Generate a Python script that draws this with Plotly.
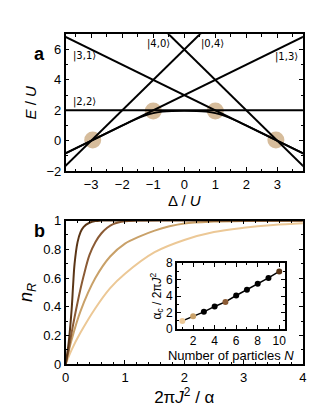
import plotly.graph_objects as go

# ---- panel a: energy levels vs detuning ----
delta_ends = [-4, 4]
e_31 = [7, -1]
e_13 = [-1, 7]
e_40 = [14, -2]
e_04 = [-2, 14]
e_22 = [2, 2]

# lower (avoided crossing) branch
delta_low = [-4.0, -3.0, -2.0, -1.6, -1.3, -1.0, -0.7, -0.4, 0.0, 0.4, 0.7, 1.0, 1.3, 1.6, 2.0, 3.0, 4.0]
e_low = [-1.0, 0.0, 1.0, 1.38, 1.63, 1.82, 1.91, 1.95, 1.96, 1.95, 1.91, 1.82, 1.63, 1.38, 1.0, 0.0, -1.0]

res_delta = [-2.95, -1, 1, 2.95]
res_e = [0.05, 1.95, 1.95, 0.05]

ket_labels = ["|3,1⟩", "|4,0⟩", "|0,4⟩", "|1,3⟩", "|2,2⟩"]
ket_delta = [-3.2, -0.84, 0.9, 3.3, -3.2]
ket_e = [5.57, 6.39, 6.39, 5.5, 2.54]

# ---- panel b: n_R vs 2piJ^2/alpha for N = 1, 2, 5, 10 ----
x_n1 = [0, 0.1, 0.25, 0.5, 0.75, 1.0, 1.5, 2.0, 2.5, 3.0, 3.5, 4.0]
n_n1 = [0, 0.10, 0.22, 0.39, 0.53, 0.63, 0.78, 0.865, 0.92, 0.95, 0.97, 0.982]
x_n2 = [0, 0.1, 0.25, 0.5, 0.75, 1.0, 1.25, 1.5, 1.75, 2.0, 2.5, 3.0, 4.0]
n_n2 = [0, 0.17, 0.37, 0.60, 0.75, 0.84, 0.89, 0.93, 0.96, 0.98, 0.993, 0.998, 1.0]
x_n5 = [0, 0.05, 0.1, 0.2, 0.3, 0.4, 0.5, 0.6, 0.7, 0.8, 1.0, 1.2, 4.0]
n_n5 = [0, 0.10, 0.22, 0.43, 0.61, 0.76, 0.85, 0.91, 0.95, 0.975, 0.995, 1.0, 1.0]
x_n10 = [0, 0.05, 0.1, 0.125, 0.15, 0.2, 0.25, 0.3, 0.4, 0.5, 0.6, 4.0]
n_n10 = [0, 0.15, 0.38, 0.55, 0.70, 0.85, 0.92, 0.955, 0.985, 0.997, 1.0, 1.0]
curve_colors = ["#ecc896", "#c9a169", "#8b5b35", "#5a3516"]

# inset: critical alpha vs particle number
n_particles = [1, 2, 3, 4, 5, 6, 7, 8, 9, 10]
alpha_c = [1.0, 1.55, 2.1, 2.75, 3.3, 4.07, 4.77, 5.5, 6.2, 6.98]
point_colors = ["#ecc896", "#c9a169", "black", "black", "#8b5b35",
                "black", "black", "black", "black", "#5a3516"]

FONT = "Liberation Sans, Arial, DejaVu Sans"

fig = go.Figure()

# resonance circles sit behind the level lines
fig.add_trace(go.Scatter(x=res_delta, y=res_e, mode="markers",
                         marker=dict(size=17, color="rgba(196,160,112,0.7)"),
                         xaxis="x", yaxis="y"))
for e_line in [e_31, e_13, e_40, e_04, e_22]:
    fig.add_trace(go.Scatter(x=delta_ends, y=e_line, mode="lines",
                             line=dict(color="black", width=2),
                             xaxis="x", yaxis="y", hoverinfo="skip"))
fig.add_trace(go.Scatter(x=delta_low, y=e_low, mode="lines", line_shape="spline",
                         line=dict(color="black", width=1.8), xaxis="x", yaxis="y"))

for xs, ys, col in zip([x_n1, x_n2, x_n5, x_n10], [n_n1, n_n2, n_n5, n_n10], curve_colors):
    fig.add_trace(go.Scatter(x=xs, y=ys, mode="lines", line_shape="spline",
                             line=dict(color=col, width=2), xaxis="x2", yaxis="y2"))

fig.add_trace(go.Scatter(x=n_particles, y=alpha_c, mode="lines+markers",
                         line=dict(color="black", width=1.5),
                         marker=dict(size=6, color=point_colors),
                         xaxis="x3", yaxis="y3"))

axis_common = dict(showline=True, linecolor="black", linewidth=1.6, mirror="ticks",
                   ticks="inside", ticklen=4, tickwidth=1.2, tickcolor="black",
                   showgrid=False, zeroline=False,
                   tickfont=dict(size=13, color="black", family=FONT))

ann = []
for lab, dx, ey in zip(ket_labels, ket_delta, ket_e):
    ann.append(dict(x=dx, y=ey, xref="x", yref="y", text=lab, showarrow=False,
                    font=dict(size=10, color="black", family="DejaVu Sans")))
ann.append(dict(x=0.06, y=0.933, xref="paper", yref="paper", text="<b>a</b>", showarrow=False,
                font=dict(size=18, color="black", family=FONT)))
ann.append(dict(x=0.06, y=0.46, xref="paper", yref="paper", text="<b>b</b>", showarrow=False,
                font=dict(size=18, color="black", family=FONT)))

fig.update_layout(
    width=335, height=415,
    margin=dict(l=0, r=0, t=0, b=0),
    paper_bgcolor="white", plot_bgcolor="white",
    showlegend=False,
    font=dict(family=FONT, color="black"),
    xaxis=dict(axis_common, domain=[0.1642, 0.8896], range=[-3.82, 3.82],
               tickvals=[-3, -2, -1, 0, 1, 2, 3],
               minor=dict(dtick=0.5, ticks="inside", ticklen=2.5, tickcolor="black"),
               title=dict(text="Δ / <i>U</i>", font=dict(size=15), standoff=4),
               anchor="y"),
    yaxis=dict(axis_common, domain=[0.6096, 0.9518], range=[-2, 7],
               tickvals=[-2, 0, 2, 4, 6],
               minor=dict(dtick=1, ticks="inside", ticklen=2.5, tickcolor="black"),
               title=dict(text="<i>E</i> / <i>U</i>", font=dict(size=15), standoff=6),
               anchor="x"),
    xaxis2=dict(axis_common, domain=[0.1642, 0.8896], range=[0, 4],
                tickvals=[0, 1, 2, 3, 4],
                minor=dict(dtick=0.2, ticks="inside", ticklen=2.5, tickcolor="black"),
                title=dict(text="2π<i>J</i><sup>2</sup> / α", font=dict(size=17), standoff=6),
                anchor="y2"),
    yaxis2=dict(axis_common, domain=[0.1270, 0.4860], range=[0, 1],
                tickvals=[0, 0.2, 0.4, 0.6, 0.8, 1], ticktext=["0", "0.2", "0.4", "0.6", "0.8", "1"],
                minor=dict(dtick=0.1, ticks="inside", ticklen=2.5, tickcolor="black"),
                title=dict(text="<i>n</i><sub><i>R</i></sub>", font=dict(size=18), standoff=6),
                anchor="x2"),
    xaxis3=dict(axis_common, domain=[0.5045, 0.8337], range=[0.5, 10.5],
                tickvals=[2, 4, 6, 8, 10], tickfont=dict(size=12, color="black", family=FONT),
                minor=dict(dtick=1, ticks="inside", ticklen=2, tickcolor="black"),
                title=dict(text="Number of particles <i>N</i>", font=dict(size=13), standoff=2),
                anchor="y3"),
    yaxis3=dict(axis_common, domain=[0.2145, 0.3800], range=[0, 8],
                tickvals=[0, 2, 4, 6, 8], tickfont=dict(size=12, color="black", family=FONT),
                minor=dict(dtick=1, ticks="inside", ticklen=2, tickcolor="black"),
                title=dict(text="α<sub><i>c</i></sub> / 2π<i>J</i><sup>2</sup>", font=dict(size=12), standoff=2),
                anchor="x3"),
    annotations=ann,
)

fig.write_html("out.html")
